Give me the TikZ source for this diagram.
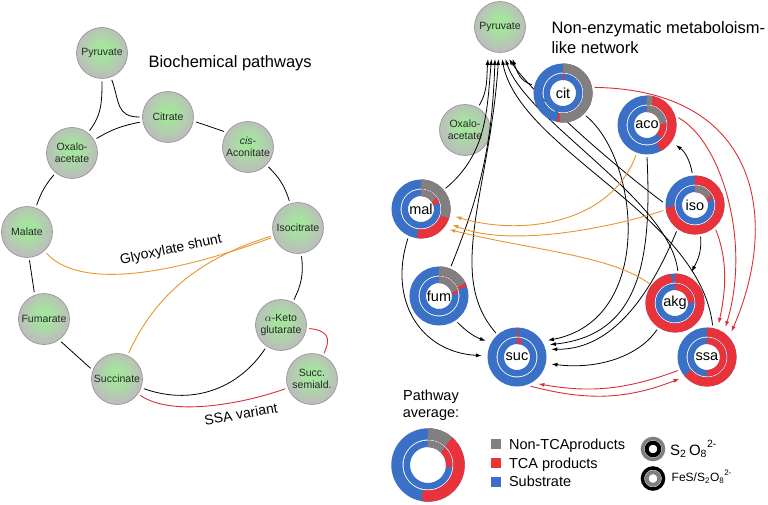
\documentclass[tikz,border=0pt]{standalone}
\usepackage{fontspec}
\setmainfont{Liberation Sans}
\usetikzlibrary{arrows.meta}
\definecolor{cblue}{RGB}{58,112,198}
\definecolor{cred}{RGB}{233,50,58}
\definecolor{cgrey}{RGB}{128,128,128}
\definecolor{corange}{RGB}{232,150,48}
\definecolor{cline}{RGB}{222,45,52}
\definecolor{gin}{RGB}{165,228,158}
\definecolor{gout}{RGB}{188,188,188}
\definecolor{gborder}{RGB}{145,145,145}
\definecolor{gtext}{RGB}{40,40,40}
\pgfdeclareradialshading{gball}{\pgfpoint{0bp}{4bp}}{color(0bp)=(gin); color(7bp)=(gin); color(26bp)=(gout); color(50bp)=(gout)}
\newcommand{\arcseg}[6]{\draw[line width=#3pt,#6] (#1) ++({90-(#4)}:#2) arc[start angle={90-(#4)}, end angle={90-(#5)}, radius=#2];}
\newcommand{\donut}[9]{%
  \draw[line width=#3pt,cblue] (#1) circle[radius=#2];
  \draw[line width=#5pt,cblue] (#1) circle[radius=#4];
  \ifdim #7pt>0pt \arcseg{#1}{#2}{#3}{0}{#7}{cred}\fi
  \ifdim #6pt>0pt \arcseg{#1}{#2}{#3}{0}{#6}{cgrey}\fi
  \ifdim #9pt>0pt \arcseg{#1}{#4}{#5}{0}{#9}{cred}\fi
  \ifdim #8pt>0pt \arcseg{#1}{#4}{#5}{0}{#8}{cgrey}\fi
}
\tikzset{
  gnode/.style={circle, draw=gborder, line width=0.6pt, shading=gball, minimum size=51pt, inner sep=0pt, outer sep=3pt, align=center, text=gtext, font=\fontsize{10.5}{12.3}\selectfont},
  rnode/.style={circle, minimum size=59.4pt, inner sep=0pt, outer sep=2.5pt, font=\fontsize{14.5}{16}\selectfont},
  ln/.style={line width=0.8pt, black},
  redln/.style={line width=0.9pt, cline},
  orln/.style={line width=0.9pt, corange},
  arrP/.style={line width=0.8pt, black, -{Latex[length=6pt,width=4pt]}},
  arr/.style={line width=0.8pt, black, -{Latex[length=6pt,width=4pt]}, shorten >=3pt},
  oarr/.style={line width=0.9pt, corange, -{Latex[length=6pt,width=4pt]}, shorten >=3pt},
  rarr/.style={line width=0.9pt, cline, -{Latex[length=6pt,width=4pt]}, shorten >=3pt},
  ttl/.style={font=\fontsize{16.5}{19}\selectfont},
  lbl/.style={font=\fontsize{14}{16}\selectfont},
  lg/.style={font=\fontsize{14.5}{17}\selectfont},
}
\begin{document}
\begin{tikzpicture}[x=1pt,y=1pt]
\useasboundingbox (0,0) rectangle (768,-505);
\fill[white] (0,0) rectangle (768,-505);

% ================= LEFT: biochemical pathways =================
\node[gnode] (lpyr) at (102,-53) {Pyruvate};
\node[gnode] (lcit) at (168,-117) {Citrate};
\node[gnode] (laco) at (248,-147) {\textit{cis}-\\Aconitate};
\node[gnode] (loxa) at (72,-153) {Oxalo-\\acetate};
\node[gnode] (lmal) at (27,-232) {Malate};
\node[gnode] (liso) at (298,-228) {Isocitrate};
\node[gnode] (lfum) at (44,-319) {Fumarate};
\node[gnode] (lsuc) at (117,-379) {Succinate};
\node[gnode] (lakg) at (281,-325) {$\alpha$-Keto\\glutarate};
\node[gnode] (lssa) at (312,-379) {Succ.\\semiald.};

\node[ttl, anchor=base west] (ltitle) at (145,-68) {Biochemical pathways};

\draw[ln] (lpyr) to[out=-90, in=52] (loxa);
\draw[ln] (lpyr) to[out=-70, in=180, looseness=1.3] (lcit);
\draw[ln] (loxa) to[bend left=10] (lcit);
\draw[ln] (lcit.-10) -- (laco.147);
\draw[ln] (laco) to[bend left=14] (liso);
\draw[ln] (loxa) to[bend right=10] (lmal);
\draw[ln] (lmal.-85) -- (lfum.110);
\draw[ln] (lfum.-53) -- (lsuc.158);
\draw[ln] (lsuc) to[bend right=38] (lakg);
\draw[ln] (liso) to[bend left=17] (lakg);
\draw[redln] (lakg) to[out=-7, in=65, looseness=1.6] (lssa);
\draw[redln] (lsuc) to[out=-35, in=200, looseness=0.7] (lssa);
\draw[orln] (lmal) .. controls (80,-290) and (170,-275) .. (liso);
\draw[orln] (lsuc) .. controls (155,-295) and (200,-258) .. (liso);

\node[lbl, rotate=12] (lglyox) at (171,-250) {Glyoxylate shunt};
\node[lbl, rotate=10] (lssav) at (241,-414) {SSA variant};

% ================= RIGHT: network =================
\node[gnode] (rpyr) at (500,-27) {Pyruvate};
\node[gnode] (roxa) at (465,-130) {Oxalo-\\acetate};

\coordinate (citC) at (563,-93);
\coordinate (acoC) at (647,-125);
\coordinate (isoC) at (695,-205);
\coordinate (malC) at (421,-209);
\coordinate (fumC) at (439,-296);
\coordinate (sucC) at (517,-357);
\coordinate (akgC) at (675,-303);
\coordinate (ssaC) at (707,-357);

\node[rnode] (cit) at (citC) {cit};
\node[rnode] (aco) at (acoC) {aco};
\node[rnode] (iso) at (isoC) {iso};
\node[rnode] (mal) at (malC) {mal};
\node[rnode] (fum) at (fumC) {fum};
\node[rnode] (suc) at (sucC) {suc};
\node[rnode] (akg) at (akgC) {akg};
\node[rnode] (ssa) at (ssaC) {ssa};

\node[ttl, anchor=base west] (rtitle1) at (548,-33.3) {Non-enzymatic metaboloism-};
\node[ttl, anchor=base west] (rtitle2) at (548,-53.3) {like network};

% arrow tips below pyruvate
\coordinate (p1) at (488,-59);
\coordinate (p2) at (491.5,-59);
\coordinate (p3) at (495,-59);
\coordinate (p4) at (498.5,-59);
\coordinate (p5) at (502,-59);
\coordinate (p6) at (505.5,-59);
\coordinate (p7) at (509,-59);
\coordinate (p8) at (512.5,-59);

\draw[arrP] (roxa) to[out=60, in=-95] (p1);
\draw[arrP] (mal) to[out=40, in=-95] (p2);
\draw[arrP] (fum) to[out=68, in=-92] (p3);
\draw[arrP] (suc) .. controls (445,-275) and (490,-190) .. (p4);
\draw[arrP] (ssa.80) .. controls (700,-215) and (520,-150) .. (p5);
\draw[arrP] (akg.85) .. controls (670,-200) and (525,-120) .. (p6);
\draw[arrP] (iso.175) .. controls (600,-155) and (530,-90) .. (p7);
\draw[arrP] (cit.165) to[out=165, in=-70] (p8);

% arrows into suc
\draw[arr] (mal.-114) .. controls (388,-300) and (420,-352) .. (suc.178);
\draw[arr] (fum.-55) to[out=-45, in=160] (suc.152);
\draw[arr] (cit.-45) .. controls (640,-160) and (655,-320) .. (suc.30);
\draw[arr] (aco.-90) .. controls (652,-260) and (640,-335) .. (suc.22);
\draw[arr] (iso.235) .. controls (652,-290) and (615,-350) .. (suc.14);
\draw[arr] (akg.236) .. controls (640,-355) and (600,-370) .. (suc.-12);

% iso -> aco, iso -> akg
\draw[arr] (iso.95) to[out=100, in=-35] (aco.-35);
\draw[arr] (iso.-80) to[out=-85, in=62] (akg.62);

% orange arrows into mal
\draw[oarr] (aco.250) .. controls (610,-225) and (520,-236) .. (mal.-12);
\draw[oarr] (iso.190) .. controls (610,-228) and (510,-248) .. (mal.-27);
\draw[oarr] (akg.143) .. controls (610,-255) and (530,-250) .. (mal.-38);

% red arrows into ssa
\draw[rarr] (cit.10) .. controls (760,-90) and (780,-220) .. (ssa.44);
\draw[rarr] (aco.13) .. controls (720,-140) and (752,-240) .. (ssa.57);
\draw[rarr] (iso.-50) .. controls (728,-260) and (726,-290) .. (ssa.70);

% suc <-> ssa
\draw[rarr] (ssa.205) to[bend left=15] (suc.-55);
\draw[rarr] (suc.-65) to[bend right=18] (ssa.220);

% rings (outer mid, outer width, inner mid, inner width, og, or, ig, ir)
\donut{citC}{25}{9}{16.25}{6.5}{187}{192}{0}{4}
\donut{acoC}{25}{9}{16.25}{6.5}{12}{152}{85}{133}
\donut{isoC}{25}{9}{16.25}{6.5}{0}{266}{59}{71}
\donut{malC}{25}{9}{16.25}{6.5}{108}{188}{55}{72}
\donut{fumC}{25}{9}{16.25}{6.5}{64}{71}{73}{82}
\donut{sucC}{25}{9}{16.25}{6.5}{0}{3}{0}{14}
\donut{akgC}{25}{9}{16.25}{6.5}{0}{352}{0}{88}
\donut{ssaC}{25}{9}{16.25}{6.5}{0}{230}{0}{180}

% ================= legend =================
\node[lg, anchor=base] (lgpa1) at (431,-400) {Pathway};
\node[lg, anchor=base] (lgpa2) at (431,-417.3) {average:};
\coordinate (avgC) at (428,-465);
\donut{avgC}{31.1}{11.2}{21.25}{6.5}{42}{190}{45}{95}

\node[fill=cgrey, minimum size=10pt, inner sep=0pt] (sq1) at (495.7,-444.3) {};
\node[fill=cred, minimum size=10pt, inner sep=0pt] (sq2) at (495.7,-463) {};
\node[fill=cblue, minimum size=10pt, inner sep=0pt] (sq3) at (495.7,-481.7) {};
\node[lg, anchor=base west] (lgt1) at (505.5,-449.3) {Non-TCAproducts};
\node[lg, anchor=base west] (lgt2) at (505.5,-468.3) {TCA products};
\node[lg, anchor=base west] (lgt3) at (505.5,-486.7) {Substrate};

\coordinate (s1C) at (653,-449);
\draw[line width=3.5pt, cgrey] (s1C) circle[radius=10.55];
\draw[line width=4pt, black] (s1C) circle[radius=6.3];
\coordinate (s2C) at (653,-478.5);
\draw[line width=3.5pt, black] (s2C) circle[radius=10.55];
\draw[line width=4pt, cgrey] (s2C) circle[radius=6.3];
\node[font=\fontsize{15}{17}\selectfont, anchor=base west, inner sep=0pt] (lgs1) at (670,-455) {S\textsubscript{2}\,O\textsubscript{8}\raisebox{0.25ex}{\textsuperscript{2-}}};
\node[font=\fontsize{12}{14}\selectfont, anchor=base west, inner sep=0pt] (lgs2) at (671.5,-481.5) {FeS/S\textsubscript{2}O\textsubscript{8}\raisebox{0.25ex}{\textsuperscript{2-}}};
\end{tikzpicture}
\end{document}
